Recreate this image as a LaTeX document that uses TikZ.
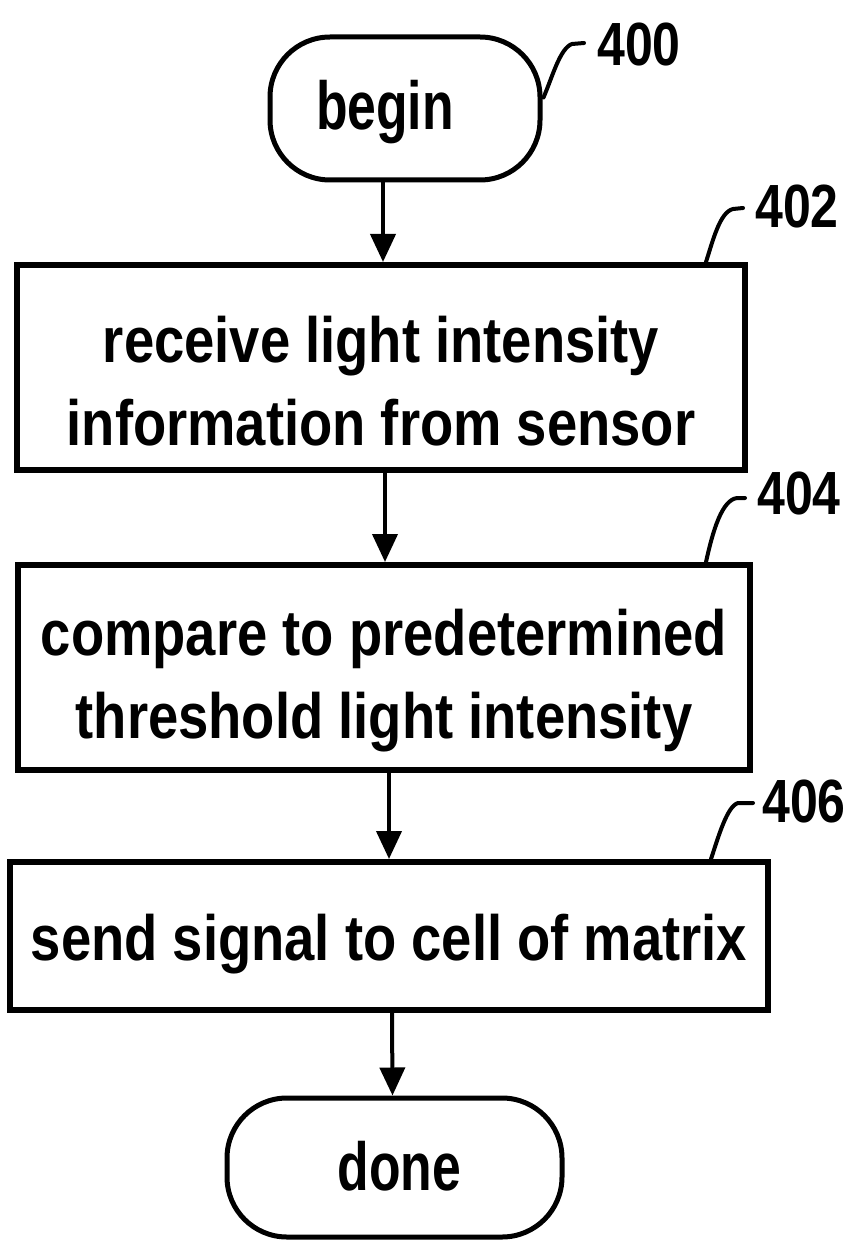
\documentclass[tikz,border=0pt]{standalone}
\usepackage{fontspec}
\setmainfont{Liberation Sans}
\newfontfamily\boxfont[FakeStretch=0.85]{Liberation Sans}
\newfontfamily\termfont[FakeStretch=0.76]{Liberation Sans}
\newfontfamily\labfont[FakeStretch=0.82]{Liberation Sans}
\usetikzlibrary{arrows.meta,calc}
\newcommand\hstr[1]{\rule{0pt}{#1pt}}
\newcommand\dstr[1]{\rule[-#1pt]{0pt}{0pt}}
\tikzset{
  stepbox/.style={draw, line width=6pt, rectangle, inner sep=0pt, align=center,
    font=\boxfont\bfseries\fontsize{64}{83}\selectfont},
  term/.style={draw, line width=5pt, rectangle, rounded corners=60pt, inner sep=0pt, align=center,
    font=\termfont\bfseries\fontsize{68}{80}\selectfont},
  flow/.style={line width=4pt, -{Triangle[length=28pt,width=25pt]}},
  leader/.style={line width=4pt, line cap=round},
  reflab/.style={inner sep=0pt, anchor=west, font=\labfont\bfseries\fontsize{61}{70}\selectfont}
}
\begin{document}
\begin{tikzpicture}[x=1pt,y=-1pt]
\useasboundingbox (0,0) rectangle (855,1241);
\fill[white] (0,0) rectangle (855,1241);

\node[term, minimum width=270pt, minimum height=143pt] (begin) at (405,108.5) {\hstr{63}begin\dstr{20}\hspace*{40pt}};
\node[stepbox, minimum width=728pt, minimum height=205pt] (b402) at (381,367.5)
  {\hstr{92}receive light intensity\\information from sensor\dstr{20}};
\node[stepbox, minimum width=732pt, minimum height=205pt] (b404) at (384,667.5)
  {\hstr{79}compare to predetermined\\threshold light intensity\dstr{20}};
\node[stepbox, minimum width=758pt, minimum height=148pt] (b406) at (389,936)
  {\hstr{68}send signal to cell of matrix\dstr{20}};
\node[term, minimum width=335pt, minimum height=139pt] (done) at (394.5,1167.5) {\hspace*{10pt}\hstr{65}done\dstr{20}};

% reference labels
\node[reflab] (l400) at (597,45) {400};
\node[reflab] (l402) at (755,207) {402};
\node[reflab] (l404) at (757,493) {404};
\node[reflab] (l406) at (762,801) {406};

% connectors
\draw[flow] ($(begin.south)+(-22,0)$) -- ($(b402.north)+(2,0)$);
\draw[flow] ($(b402.south)+(4,0)$) -- ($(b404.north)+(1,0)$);
\draw[flow] ($(b404.south)+(5,0)$) -- ($(b406.north)+(0,0)$);
\draw[flow] ($(b406.south)+(3,0)$) -- ($(done.north)+(-2,0)$);

% leaders
\draw[leader] ($(begin.east)+(1,-11)$) .. controls (552,78) and (560,48) .. (572,44) -- ($(l400.west)+(-13,-2)$);
\draw[leader] ($(b402.north east)+(-42,0)$) .. controls (713,240) and (720,212) .. (733,209) -- ($(l402.west)+(-12,1)$);
\draw[leader] ($(b404.north east)+(-47,0)$) .. controls (713,530) and (722,500) .. (737,498) -- ($(l404.west)+(-12,5)$);
\draw[leader] ($(b406.north east)+(-60,0)$) .. controls (718,838) and (727,806) .. (738,803) -- ($(l406.west)+(-9,2)$);
\end{tikzpicture}
\end{document}
